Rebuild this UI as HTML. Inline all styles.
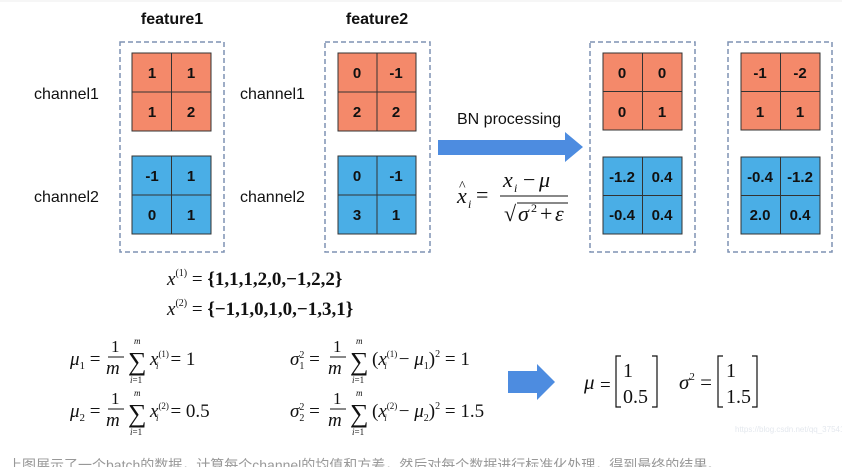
<!DOCTYPE html>
<html><head><meta charset="utf-8"><style>
html,body{margin:0;padding:0;background:#fff;}
svg{display:block;}
.s{font-family:"Liberation Sans",sans-serif;}
.m{font-family:"Liberation Serif",serif;}
</style></head><body>
<svg width="842" height="467" viewBox="0 0 842 467" xmlns="http://www.w3.org/2000/svg">
<rect width="842" height="467" fill="#fff"/>
<line x1="0" y1="1" x2="842" y2="1" stroke="#eee"/>
<g class="s" font-weight="bold" font-size="16" fill="#111" text-anchor="middle">
<text x="172" y="24">feature1</text>
<text x="377" y="24">feature2</text>
</g>
<g class="s" font-size="16" fill="#111">
<text x="34" y="99">channel1</text>
<text x="34" y="202">channel2</text>
<text x="240" y="99">channel1</text>
<text x="240" y="202">channel2</text>
<text x="457" y="124">BN processing</text>
</g>
<g fill="none" stroke="#7f92b4" stroke-width="1.5" stroke-dasharray="5,3">
<rect x="120" y="42" width="104" height="210"/>
<rect x="325" y="42" width="105" height="210"/>
<rect x="590" y="42" width="105" height="210"/>
<rect x="728" y="42" width="104" height="210"/>
</g>
<g stroke="#333" stroke-width="1">
<g fill="#f4896a">
<rect x="132" y="53" width="79" height="78"/><rect x="338" y="53" width="78" height="78"/>
<rect x="603" y="53" width="79" height="77"/><rect x="741" y="53" width="79" height="77"/>
</g>
<g fill="#4aaee6">
<rect x="132" y="156" width="79" height="78"/><rect x="338" y="156" width="78" height="78"/>
<rect x="603" y="157" width="79" height="77"/><rect x="741" y="157" width="79" height="77"/>
</g>
<path d="M171.5 53V131M132 92H211M171.5 156V234M132 195H211M377 53V131M338 92H416M377 156V234M338 195H416M642.5 53V130M603 91.5H682M642.5 157V234M603 195.5H682M780.5 53V130M741 91.5H820M780.5 157V234M741 195.5H820"/>
</g>
<g class="s" font-weight="bold" font-size="15" fill="#111" text-anchor="middle">
<text x="152" y="78">1</text><text x="191" y="78">1</text><text x="152" y="117">1</text><text x="191" y="117">2</text>
<text x="152" y="181">-1</text><text x="191" y="181">1</text><text x="152" y="220">0</text><text x="191" y="220">1</text>
<text x="357" y="78">0</text><text x="396" y="78">-1</text><text x="357" y="117">2</text><text x="396" y="117">2</text>
<text x="357" y="181">0</text><text x="396" y="181">-1</text><text x="357" y="220">3</text><text x="396" y="220">1</text>
<text x="622" y="78">0</text><text x="662" y="78">0</text><text x="622" y="117">0</text><text x="662" y="117">1</text>
<text x="622" y="182">-1.2</text><text x="662" y="182">0.4</text><text x="622" y="220">-0.4</text><text x="662" y="220">0.4</text>
<text x="760" y="78">-1</text><text x="800" y="78">-2</text><text x="760" y="117">1</text><text x="800" y="117">1</text>
<text x="760" y="182">-0.4</text><text x="800" y="182">-1.2</text><text x="760" y="220">2.0</text><text x="800" y="220">0.4</text>
</g>
<polygon points="438,140 565,140 565,132 583,147 565,162 565,155 438,155" fill="#4d8ce0"/>
<polygon points="508,371 537,371 537,364 555,382 537,400 537,393 508,393" fill="#4d8ce0"/>
<g class="m" font-size="22" fill="#111" font-style="italic">
<text x="457" y="203">x</text>
<text x="459" y="190" font-size="14" font-style="normal">^</text>
<text x="468" y="208" font-size="12">i</text>
<text x="476" y="202" font-style="normal">=</text>
<text x="503" y="187">x</text><text x="514" y="192" font-size="12">i</text>
<text x="523" y="187" font-style="normal">−</text><text x="539" y="187">μ</text>
<line x1="500" y1="196" x2="568" y2="196" stroke="#111" stroke-width="1"/>
<text x="504" y="221" font-style="normal">√</text>
<line x1="517" y1="203" x2="568" y2="203" stroke="#111" stroke-width="1"/>
<text x="518" y="221">σ</text><text x="531" y="212" font-size="12" font-style="normal">2</text>
<text x="540" y="221" font-style="normal">+</text><text x="555" y="221">ε</text>
</g>
<g class="m" fill="#111">
<text x="167" y="285" font-size="19"><tspan font-style="italic">x</tspan><tspan font-size="10" dy="-9">(1)</tspan><tspan dy="9"> = </tspan><tspan font-weight="bold">{1,1,1,2,0,−1,2,2}</tspan></text>
<text x="167" y="315" font-size="19"><tspan font-style="italic">x</tspan><tspan font-size="10" dy="-9">(2)</tspan><tspan dy="9"> = </tspan><tspan font-weight="bold">{−1,1,0,1,0,−1,3,1}</tspan></text>
</g>
<g class="m" fill="#111" font-size="19">
<g>
<text x="70" y="365"><tspan font-style="italic">μ</tspan><tspan font-size="11" dy="4">1</tspan><tspan dy="-4"> =</tspan></text>
<text x="111" y="352" font-size="17">1</text>
<line x1="108" y1="357" x2="124" y2="357" stroke="#111"/>
<text x="106" y="374" font-style="italic">m</text>
<text x="128" y="370" font-size="26">∑</text>
<text x="134" y="344" font-size="9" font-style="italic">m</text>
<text x="130" y="383" font-size="9"><tspan font-style="italic">i</tspan>=1</text>
<text x="150" y="365"><tspan font-style="italic">x</tspan><tspan font-size="9" dy="-8">(1)</tspan><tspan font-size="9" dx="-13" dy="12" font-style="italic">i</tspan><tspan dx="12" dy="-4">= 1</tspan></text>
</g>
<g>
<text x="70" y="417"><tspan font-style="italic">μ</tspan><tspan font-size="11" dy="4">2</tspan><tspan dy="-4"> =</tspan></text>
<text x="111" y="404" font-size="17">1</text>
<line x1="108" y1="409" x2="124" y2="409" stroke="#111"/>
<text x="106" y="426" font-style="italic">m</text>
<text x="128" y="422" font-size="26">∑</text>
<text x="134" y="396" font-size="9" font-style="italic">m</text>
<text x="130" y="435" font-size="9"><tspan font-style="italic">i</tspan>=1</text>
<text x="150" y="417"><tspan font-style="italic">x</tspan><tspan font-size="9" dy="-8">(2)</tspan><tspan font-size="9" dx="-13" dy="12" font-style="italic">i</tspan><tspan dx="12" dy="-4">= 0.5</tspan></text>
</g>
<g>
<text x="290" y="365"><tspan font-style="italic">σ</tspan><tspan font-size="10" dy="-7">2</tspan><tspan font-size="10" dx="-5" dy="11">1</tspan><tspan dy="-4"> =</tspan></text>
<text x="333" y="352" font-size="17">1</text>
<line x1="330" y1="357" x2="346" y2="357" stroke="#111"/>
<text x="328" y="374" font-style="italic">m</text>
<text x="350" y="370" font-size="26">∑</text>
<text x="356" y="344" font-size="9" font-style="italic">m</text>
<text x="352" y="383" font-size="9"><tspan font-style="italic">i</tspan>=1</text>
<text x="372" y="365">(<tspan font-style="italic">x</tspan><tspan font-size="9" dy="-8">(1)</tspan><tspan font-size="9" dx="-13" dy="12" font-style="italic">i</tspan><tspan dx="12" dy="-4">− </tspan><tspan font-style="italic">μ</tspan><tspan font-size="10" dy="4">1</tspan><tspan dy="-4">)</tspan><tspan font-size="10" dy="-8">2</tspan><tspan dy="8"> = 1</tspan></text>
</g>
<g>
<text x="290" y="417"><tspan font-style="italic">σ</tspan><tspan font-size="10" dy="-7">2</tspan><tspan font-size="10" dx="-5" dy="11">2</tspan><tspan dy="-4"> =</tspan></text>
<text x="333" y="404" font-size="17">1</text>
<line x1="330" y1="409" x2="346" y2="409" stroke="#111"/>
<text x="328" y="426" font-style="italic">m</text>
<text x="350" y="422" font-size="26">∑</text>
<text x="356" y="396" font-size="9" font-style="italic">m</text>
<text x="352" y="435" font-size="9"><tspan font-style="italic">i</tspan>=1</text>
<text x="372" y="417">(<tspan font-style="italic">x</tspan><tspan font-size="9" dy="-8">(2)</tspan><tspan font-size="9" dx="-13" dy="12" font-style="italic">i</tspan><tspan dx="12" dy="-4">− </tspan><tspan font-style="italic">μ</tspan><tspan font-size="10" dy="4">2</tspan><tspan dy="-4">)</tspan><tspan font-size="10" dy="-8">2</tspan><tspan dy="8"> = 1.5</tspan></text>
</g>
<text x="584" y="389" font-style="italic" font-size="21">μ</text>
<text x="600" y="391">=</text>
<path d="M621 356H616V407H621M652 356H657V407H652" fill="none" stroke="#111" stroke-width="1.2"/>
<text x="623" y="377" font-size="20">1</text><text x="623" y="403" font-size="20">0.5</text>
<text x="679" y="389" font-size="21"><tspan font-style="italic">σ</tspan><tspan font-size="11" dy="-9">2</tspan><tspan dy="9"> =</tspan></text>
<path d="M723 356H718V407H723M752 356H757V407H752" fill="none" stroke="#111" stroke-width="1.2"/>
<text x="726" y="377" font-size="20">1</text><text x="726" y="403" font-size="20">1.5</text>
</g>
<text x="735" y="432" class="s" font-size="8" fill="#e4e8ee">https://blog.csdn.net/qq_37541097</text>
<text x="8" y="470" font-size="14" fill="#555" opacity="0.6" font-family="'Liberation Sans','Noto Sans CJK SC',sans-serif">上图展示了一个batch的数据，计算每个channel的均值和方差，然后对每个数据进行标准化处理，得到最终的结果。</text>
</svg>
</body></html>
